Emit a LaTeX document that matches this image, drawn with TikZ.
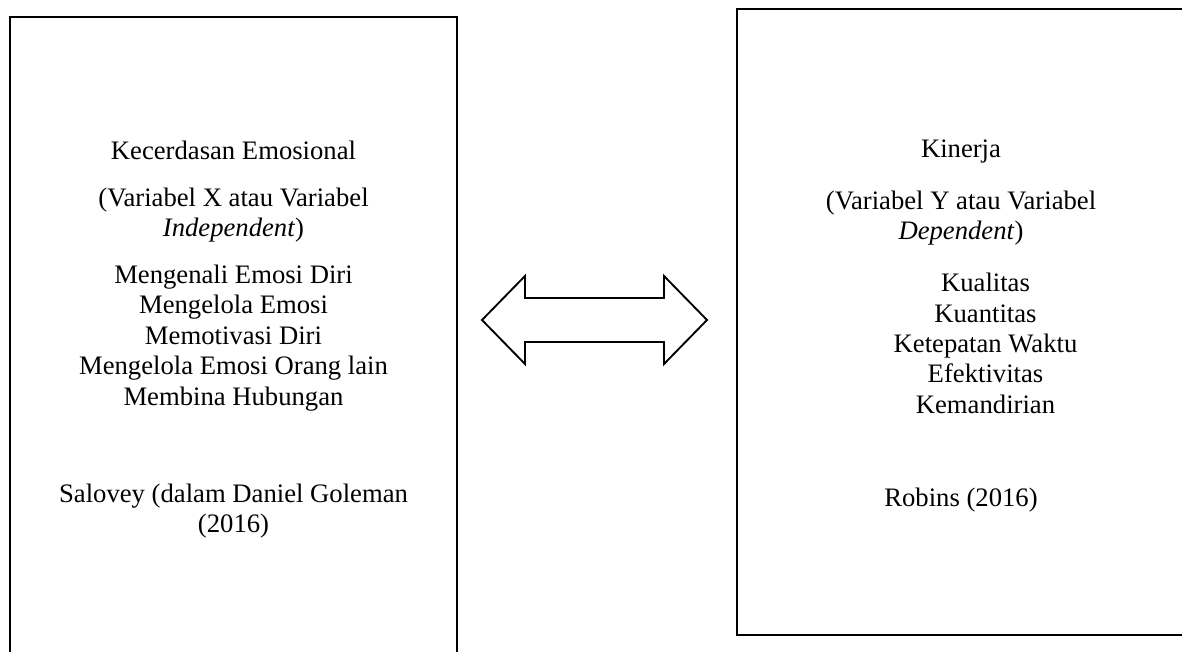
\documentclass[tikz,border=0pt]{standalone}
\usepackage{fontspec}
\setmainfont{Liberation Serif}
\usetikzlibrary{positioning}
\tikzset{
  kotak/.style={draw=black,line width=1.8pt,rectangle,inner sep=0pt},
  teks/.style={align=center,font=\fontsize{20}{22.8}\selectfont,inner sep=0pt,anchor=base},
  panah/.style={draw=black,line width=1.4pt,line join=miter,fill=white},
}
\begin{document}
\begin{tikzpicture}[x=0.75pt,y=-0.75pt]
  \useasboundingbox (0,0) rectangle (1182,652);
  \clip (0,0) rectangle (1182,652);
  \fill[white] (0,0) rectangle (1182,652);
  % kotak variabel X dan Y
  \node[kotak,minimum width=335.25pt,minimum height=512.25pt] (kiri) at (233.5,358.5) {};
  \node[kotak,minimum width=336pt,minimum height=469.5pt] (kanan) at (961,322) {};
  % isi kotak kiri (base = baris terakhir)
  \node[teks] (judulX) at (233.5,159.5) {Kecerdasan Emosional};
  \node[teks] (varX) at (233.5,236.7) {(Variabel X atau Variabel\\\textit{Independent})};
  \node[teks] (indX) at (233.5,405) {Mengenali Emosi Diri\\Mengelola Emosi\\Memotivasi Diri\\Mengelola Emosi Orang lain\\Membina Hubungan};
  \node[teks] (sumberX) at (233.5,532.5) {Salovey (dalam Daniel Goleman\\(2016)};
  % isi kotak kanan
  \node[teks] (judulY) at (961,158) {Kinerja};
  \node[teks] (varY) at (961,239.5) {(Variabel Y atau Variabel\\\textit{Dependent})};
  \node[teks] (indY) at (985.5,413.3) {Kualitas\\Kuantitas\\Ketepatan Waktu\\Efektivitas\\Kemandirian};
  \node[teks] (sumberY) at (961,506.7) {Robins (2016)};
  % hubungan X dan Y
  \coordinate (hubungan) at (594.5,320);
  \draw[panah] ([xshift=-112.5*0.75pt]hubungan) -- ++(43,-44) -- ++(0,22) -- ++(139,0)
    -- ++(0,-22) -- ++(43,44) -- ++(-43,44) -- ++(0,-22) -- ++(-139,0) -- ++(0,22) -- cycle;
\end{tikzpicture}
\end{document}
